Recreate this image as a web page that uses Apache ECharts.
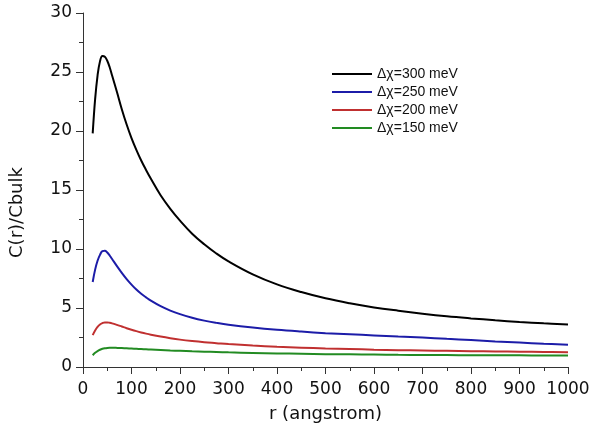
<!DOCTYPE html>
<html>
<head>
<meta charset="utf-8">
<script src="https://cdn.jsdelivr.net/npm/echarts@6/dist/echarts.min.js"></script>
<style>
html,body{margin:0;padding:0;background:#fff;}
#chart{width:593px;height:428px;}
</style>
</head>
<body>
<div id="chart"></div>
<script>
var rValues = [20,25,30,35,40,45,50,55,60,70,80,90,100,110,120,130,140,160,180,200,225,250,275,300,350,400,450,500,550,600,650,700,750,800,850,900,950,1000];
var c300 = [19.8,22.7,24.7,25.9,26.35,26.3,25.95,25.4,24.7,23.3,21.85,20.55,19.4,18.4,17.5,16.7,15.95,14.55,13.4,12.4,11.3,10.4,9.62,8.95,7.85,7.0,6.35,5.82,5.4,5.05,4.77,4.52,4.3,4.12,3.96,3.82,3.7,3.6];
var c250 = [7.2,8.25,9.0,9.5,9.82,9.85,9.7,9.45,9.15,8.55,7.98,7.45,6.98,6.56,6.2,5.9,5.62,5.15,4.78,4.48,4.17,3.93,3.74,3.58,3.34,3.15,3.0,2.87,2.77,2.68,2.59,2.5,2.39,2.28,2.17,2.07,1.97,1.88];
var c200 = [2.7,3.1,3.4,3.6,3.72,3.78,3.78,3.75,3.7,3.57,3.43,3.29,3.16,3.04,2.93,2.83,2.74,2.58,2.44,2.32,2.2,2.1,2.02,1.94,1.82,1.72,1.64,1.57,1.52,1.47,1.43,1.4,1.37,1.34,1.32,1.3,1.28,1.26];
var c150 = [1.0,1.2,1.35,1.46,1.54,1.59,1.62,1.63,1.63,1.62,1.6,1.58,1.56,1.54,1.52,1.5,1.48,1.44,1.4,1.37,1.33,1.3,1.27,1.24,1.19,1.15,1.12,1.09,1.07,1.05,1.03,1.02,1.01,1.0,0.99,0.99,0.98,0.98];
var seriesNames = ['\u0394\u03c7=300 meV','\u0394\u03c7=250 meV','\u0394\u03c7=200 meV','\u0394\u03c7=150 meV'];
var seriesColors = ['#000000','#1c1ca8','#c03030','#228b22'];
var seriesValues = [c300, c250, c200, c150];

function pairs(vals){ return rValues.map(function(r,i){ return [r, vals[i]]; }); }

var chart = echarts.init(document.getElementById('chart'), null, {renderer:'canvas'});
var font = 'DejaVu Sans, Liberation Sans, Arial, sans-serif';
var lfont = 'Liberation Sans, Arial, sans-serif';
var axisColor = '#333';
chart.setOption({
  animation:false,
  backgroundColor:'#fff',
  grid:{left:83,right:25,top:13,bottom:58},
  legend:{
    orient:'vertical', left:332, top:67, padding:0,
    icon:'rect', itemWidth:40, itemHeight:2, itemGap:4,
    textStyle:{fontFamily:lfont, fontSize:14, color:'#111', lineHeight:14},
    data:seriesNames
  },
  xAxis:{
    type:'value', min:0, max:1000, interval:100,
    name:'r (angstrom)', nameLocation:'middle', nameGap:38,
    nameTextStyle:{fontFamily:font, fontSize:18, color:'#111'},
    axisLine:{lineStyle:{color:axisColor,width:1}},
    axisTick:{length:7, lineStyle:{color:axisColor}},
    minorTick:{show:true, splitNumber:2, length:4, lineStyle:{color:axisColor}},
    axisLabel:{fontFamily:font, fontSize:17, color:'#111', margin:14,
      formatter:function(v){ return String(v); }},
    splitLine:{show:false}
  },
  yAxis:{
    type:'value', min:0, max:30, interval:5,
    name:'C(r)/Cbulk', nameLocation:'middle', nameGap:57, nameRotate:90,
    nameTextStyle:{fontFamily:font, fontSize:18, color:'#111', padding:[0,45,0,0]},
    axisLine:{show:true, lineStyle:{color:axisColor,width:1}},
    axisTick:{show:true, length:7, lineStyle:{color:axisColor}},
    minorTick:{show:true, splitNumber:2, length:4, lineStyle:{color:axisColor}},
    axisLabel:{fontFamily:font, fontSize:17, color:'#111', margin:11},
    splitLine:{show:false}
  },
  series: seriesNames.map(function(n,i){
    return {
      name:n, type:'line', data:pairs(seriesValues[i]),
      symbol:'none', smooth:0.4,
      lineStyle:{color:seriesColors[i], width:2},
      itemStyle:{color:seriesColors[i]}
    };
  })
});
</script>
</body>
</html>
